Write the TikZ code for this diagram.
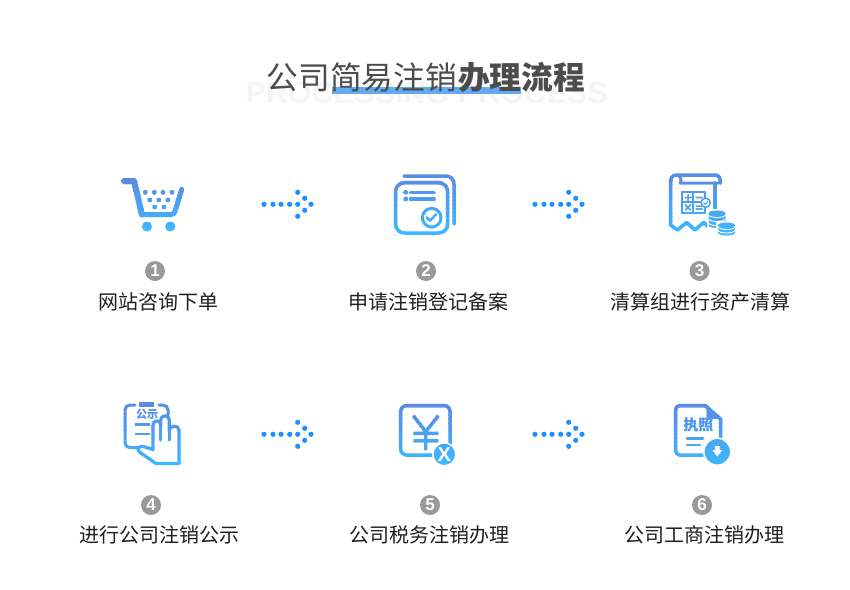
\documentclass[tikz,border=0pt]{standalone}
\usepackage{fontspec}
\setmainfont{Noto Sans CJK SC}
\newfontfamily\latinbold{Liberation Sans}
\newfontfamily\notolatin{Noto Sans}
\definecolor{gt}{HTML}{5B8AE2}
\definecolor{gb}{HTML}{3CB8FF}
\definecolor{dotblue}{HTML}{1E90FF}
\colorlet{gc}{gt}
\newcommand\fs[1]{\fontsize{#1}{#1}\selectfont}
\newcommand\gradicon[3]{%
  \foreach \i in {0,...,15}{%
    \pgfmathsetmacro\yya{#1+\i*(#2-#1)/16}%
    \pgfmathsetmacro\yyb{#1+(\i+1)*(#2-#1)/16+0.4}%
    \pgfmathsetmacro\pp{100*\i/15}%
    \colorlet{gc}{gb!\pp!gt}%
    \begin{scope}
      \clip (0,\yya) rectangle (850,\yyb);
      #3
    \end{scope}
  }}
\newcommand\dotarrow[3]{%
  \foreach \dx/\dy [count=\n] in {0/0,9/0,17/0,25.7/0,33.7/0,47/0,33.7/-12,40.7/-6,40.7/6,33.7/12}{
    \node[arrowdot] (#1-\n) at (#2+\dx,#3+\dy) {};
  }}
% a lower arc of a coin: left end x, y, width
\newcommand\coinarc[3]{(#1,#2) .. controls (#1,#2+4) and (#1+#3,#2+4) .. (#1+#3,#2)}
% a whole coin stack
\newcommand\coinstack[5]{% x, top y, width, height, list of line offsets
  \fill[gc] (#1,#2) .. controls (#1,#2-4) and (#1+#3,#2-4) .. (#1+#3,#2) -- (#1+#3,#2+#4) .. controls (#1+#3,#2+#4+4) and (#1,#2+#4+4) .. (#1,#2+#4) -- cycle;
  \foreach \o in {#5}{\draw[white,line width=.9pt] \coinarc{#1}{#2+\o}{#3};}
}
\tikzset{
  arrowdot/.style={circle,fill=dotblue,inner sep=0pt,minimum size=5.2pt},
  numdisc/.style={circle,fill=black!40,text=white,inner sep=0pt,minimum size=20pt,font=\latinbold\bfseries\fs{17}},
  steplabel/.style={text=black!88,font=\fs{20},inner sep=0pt},
  ln/.style={draw=gc,line width=3.5pt,line cap=round,line join=round},
  thinln/.style={draw=gc,line width=1.7pt,line cap=round,line join=round}
}
\begin{document}
\begin{tikzpicture}[x=1pt,y=-1pt]
\useasboundingbox[fill=white] (0,0) rectangle (850,589);
% heading
\node[anchor=center,inner sep=0pt,text=black!4,font=\latinbold\bfseries\fs{30.6}] (ghost) at (426.5,93) {PROCESSING PROCESS};
\fill[color={rgb,255:red,100;green,170;blue,242}] (332,87) rectangle (521,94);
\node[anchor=west,inner sep=0pt,text=black!70,font=\fs{31.7}] (title1) at (266.5,77.5) {公司简易注销};
\node[anchor=west,inner sep=0pt,text=black!70,font=\bfseries\fs{31.7}] (title2) at (458,77.5) {办理流程};
% arrows
\dotarrow{a1}{264}{204.3}
\dotarrow{a2}{535}{204.3}
\dotarrow{a3}{264}{434.3}
\dotarrow{a4}{535}{434.3}
% numbers
\node[numdisc] (n1) at (155,271) {1};
\node[numdisc] (n2) at (426,271) {2};
\node[numdisc] (n3) at (699.5,271) {3};
\node[numdisc] (n4) at (151,505) {4};
\node[numdisc] (n5) at (430,505) {5};
\node[numdisc] (n6) at (702,505) {6};
% labels
\node[steplabel] (l1) at (158,302) {网站咨询下单};
\node[steplabel] (l2) at (428.5,302) {申请注销登记备案};
\node[steplabel] (l3) at (700,302) {清算组进行资产清算};
\node[steplabel] (l4) at (159,535) {进行公司注销公示};
\node[steplabel] (l5) at (429.5,535) {公司税务注销办理};
\node[steplabel] (l6) at (704,535) {公司工商注销办理};
% cart
\gradicon{177}{233}{
  \draw[draw=gc,line width=6pt,line cap=round,line join=round] (124,181) -- (134,181) [rounded corners=2pt] -- (142,214.5);
  \draw[draw=gc,line width=5pt,line cap=round,line join=round,rounded corners=3pt] (141,214.5) -- (174,214.5) -- (181.7,189.5);
  \fill[gc] (147,226.5) circle (5) (170.3,226.5) circle (5);
  \foreach \px/\py in {145.3/192.3,154.3/192.3,163/192.3,172/192.3,149.7/200,158.7/200,168/200,154.7/207,164/207}{\fill[gc] (\px,\py) circle (2.4);}
}
% document
\gradicon{173}{236}{
  \draw[ln,rounded corners=8pt] (404,176) -- (454,176) -- (454,224);
  \draw[ln,rounded corners=9pt] (395.5,182.7) rectangle (447.7,233);
  \fill[gc] (405.7,192.3) circle (2.4) (405.7,199) circle (2.4);
  \draw[ln] (410.5,192.3) -- (434,192.3) (410.5,199) -- (434,199);
  \draw[ln,fill=white,line width=3pt] (431.7,217.7) circle (9.3);
  \draw[ln,line width=2.4pt] (426.7,217.3) -- (430,220.7) -- (436,214.3);
}
% receipt
\gradicon{172}{237}{
  \draw[ln] (670.5,180) -- (670.5,225) -- (677.5,230) -- (686.5,222.5) -- (695,230) -- (703.5,222.5) -- (708,226.5);
  \draw[ln] (670.5,183) .. controls (670.5,178) and (672,175) .. (677,175) -- (715,175) .. controls (718,175) and (720.5,177) .. (720.5,183);
  \draw[ln,line width=2.8pt] (677,175) .. controls (681,175) and (682,182) .. (680,183) -- (719,183);
  \draw[ln] (715,183) -- (715,208);
  \draw[thinln] (681.7,192.3) rectangle (705,212.7) (693.3,192.3) -- (693.3,212.7) (681.7,202.3) -- (705,202.3);
  \draw[thinln,line width=1.5pt] (685,197.5) -- (691,197.5) (688,194.5) -- (688,200.5) (696,197.5) -- (702,197.5)
     (685.5,205) -- (690.5,210) (690.5,205) -- (685.5,210) (696,206) -- (702,206) (696,209) -- (702,209);
  \draw[thinln,fill=white,line width=1.5pt] (705.7,202.7) circle (4.6);
  \draw[thinln,line width=1.1pt] (703.7,202.8) -- (705.2,204.3) -- (708,201.2);
  \fill[white] (707,209) rectangle (727,230);
  \coinstack{708.5}{213.5}{17}{11.5}{1,5,9}
  \fill[white] (716,221) -- (736.5,221) -- (736.5,238) -- (716,238) -- cycle;
  \coinstack{718}{225.5}{17}{7}{1,4.5}
}
% notice with hand
\gradicon{401}{467}{
  \draw[ln,line width=3pt,rounded corners=5pt] (135,405) -- (125,405) -- (125,447.7) -- (140,447.7);
  \draw[ln,line width=3pt,rounded corners=5pt] (159,405) -- (168,405) -- (168,415);
  \fill[gc] (139,402.3) rectangle (154.3,407.3);
  \node[inner sep=0pt,text=gc,font=\bfseries\fs{11}] (gs\i) at (147,414.5) {公示};
  \draw[ln,line width=2.6pt,line cap=butt] (135,424.5) -- (150,424.5) (135,434) -- (150,434);
  \draw[ln,line width=3.2pt,fill=white] (153,449.5) -- (153,426) .. controls (153,419) and (160.7,419) .. (160.7,426)
     -- (160.7,421) .. controls (160.7,414) and (169.3,414) .. (169.3,421)
     -- (169.3,431) .. controls (169.3,424.5) and (179,424.5) .. (179,431) -- (179,463.5) -- (156,463.5) -- (151,460)
     -- (139.5,452) .. controls (136.5,449.5) and (139,445.5) .. (143,446.5) -- cycle;
  \draw[ln,line width=3pt] (160.7,426) -- (160.7,440) (169.3,431) -- (169.3,440);
}
% yuan
\gradicon{403}{466}{
  \draw[ln,rounded corners=6pt] (435,455) -- (400.7,455) -- (400.7,405.5) -- (450,405.5) -- (450,445);
  \draw[ln,line width=3.4pt,line cap=butt] (413.3,415.7) -- (425.7,431.7) -- (438.3,415.7) (425.7,431.7) -- (425.7,450) (413.3,433.3) -- (438.3,433.3) (413.3,440.7) -- (438.3,440.7);
  \draw[white,fill=gc,line width=1.5pt] (444.3,454.3) circle (11.5);
  \node[inner sep=0pt,text=white,font=\latinbold\bfseries\fs{20}] (yx\i) at (444.3,454.3) {X};
}
% licence
\gradicon{403}{466}{
  \draw[ln,rounded corners=4pt] (703,455) -- (675.7,455) -- (675.7,405.5) -- (706,405.5);
  \draw[ln,line join=round] (705,405.5) -- (720.5,419) -- (720.5,438);
  \fill[gc] (706.5,408) -- (718.5,418.5) -- (706.5,418.5) -- cycle;
  \node[inner sep=0pt,text=gc,font=\bfseries\fs{15}] (zz\i) at (698.3,425) {执照};
  \draw[ln,line width=2.8pt] (687,438.3) -- (703,438.3) (687,445) -- (700,445);
  \draw[white,fill=gc,line width=1.5pt] (717.3,451.7) circle (13.5);
  \fill[white] (715,446) -- (719.6,446) -- (719.6,450) -- (722.2,450) -- (717.3,456.5) -- (712.4,450) -- (715,450) -- cycle;
}
\end{tikzpicture}
\end{document}
